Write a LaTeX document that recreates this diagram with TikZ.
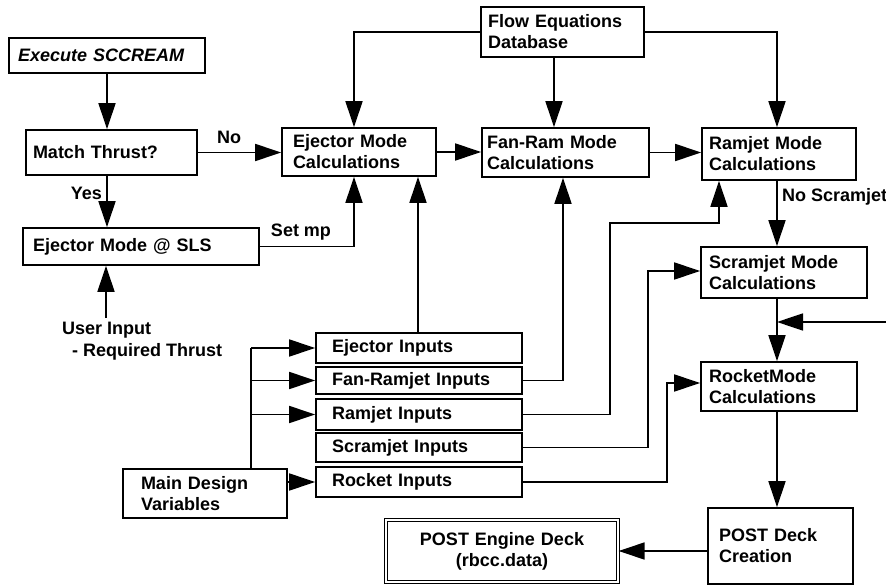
\documentclass[tikz,border=0pt]{standalone}
\usepackage{fontspec}
\setmainfont{Liberation Sans}
\usetikzlibrary{arrows.meta}
\newcommand\mkbox[8][]{%
 \pgfmathsetmacro\bxw{#5-#3}%
 \pgfmathsetmacro\bxh{#6-#4}%
 \pgfmathsetmacro\bxt{#5-#3-2*#7}%
 \pgfmathsetmacro\bxcx{(#3+#5)/2}%
 \pgfmathsetmacro\bxcy{(#4+#6)/2}%
 \node[box, minimum width=\bxw pt, minimum height=\bxh pt, text width=\bxt pt, inner xsep=#7 pt,#1] (#2) at (\bxcx,\bxcy) {#8};}
\begin{document}
\begin{tikzpicture}[x=1pt,y=-1pt,
 box/.style={draw, line width=1.7pt, rectangle, inner ysep=0pt, align=left, font=\fontsize{18}{21}\selectfont\bfseries},
 arr/.style={line width=1.7pt, -{Triangle[length=26pt,width=17pt]}},
 ln/.style={line width=1.7pt},
 lbl/.style={font=\fontsize{18}{21}\selectfont\bfseries, inner sep=0pt}]
\useasboundingbox (0,0) rectangle (886,588);
% boxes
\mkbox{exec}{9}{38}{205}{73}{9}{\itshape Execute SCCREAM}
\mkbox{match}{26}{130}{197}{175}{7}{Match Thrust?}
\mkbox{sls}{23}{228}{259}{265}{10}{Ejector Mode @ SLS}
\mkbox{ejc}{282}{128}{436}{176}{11}{Ejector Mode\\Calculations}
\mkbox{flow}{481}{7}{644}{57}{7}{Flow Equations\\Database}
\mkbox{fan}{482}{128}{649}{177}{5}{Fan-Ram Mode\\Calculations}
\mkbox{ram}{702}{128}{856}{180}{7}{Ramjet Mode\\Calculations}
\mkbox{scr}{701}{247}{867}{298}{8}{Scramjet Mode\\Calculations}
\mkbox{rock}{701}{362}{857}{411}{8}{RocketMode\\Calculations}
\mkbox{post}{708}{508}{853}{584}{11}{POST Deck\\Creation}
\mkbox[align=center, double, double distance=2pt, line width=1.2pt]{eng}{386}{520}{618}{582}{8}{POST Engine Deck\\(rbcc.data)}
\mkbox{ein}{316}{333}{522}{363}{16}{Ejector Inputs}
\mkbox{fin}{316}{367}{522}{394}{16}{Fan-Ramjet Inputs}
\mkbox{rin}{316}{399}{522}{430}{16}{Ramjet Inputs}
\mkbox{sin}{316}{433}{522}{462}{16}{Scramjet Inputs}
\mkbox{kin}{316}{467}{522}{497}{16}{Rocket Inputs}
\mkbox{main}{123}{469}{287}{518}{18}{Main Design\\Variables}
% labels
\node[lbl] (no) at (229,137) {No};
\node[lbl, anchor=east] (yes) at (102,193) {Yes};
\node[lbl] (setmp) at (301,232) {Set mp};
\node[lbl, anchor=west] (nos) at (782,197) {No Scramjet};
\node[lbl, anchor=west] (uin1) at (62,330) {User Input};
\node[lbl, anchor=west] (uin2) at (72,352) {- Required Thrust};
% helper coordinates
\coordinate (c1) at (354,0);
\coordinate (c2) at (554,0);
\coordinate (c3) at (777,0);
\coordinate (c4) at (418,0);
\coordinate (c5) at (563,0);
\coordinate (c7) at (719,0);
\coordinate (c8) at (251,0);
\coordinate (k1) at (610,223);
\coordinate (k2) at (648,271);
\coordinate (k3) at (667,383);
\coordinate (us) at (106,318);
\coordinate (rt) at (886,322);
% connectors
\draw[arr] (exec.south) -- (exec.south |- match.north);
\draw[arr] (match.east) -- (match.east -| ejc.west);
\draw[arr] (match.south -| exec.south) -- (exec.south |- sls.north);
\draw[arr] (us) -- (us |- sls.south);
\draw[arr] (sls.east) -| (ejc.south -| c1);
\draw[arr] (flow.west) -| (ejc.north -| c1);
\draw[arr] (flow.south -| c2) -- (fan.north -| c2);
\draw[arr] (flow.east) -| (ram.north -| c3);
\draw[arr] (ejc.east) -- (ejc.east -| fan.west);
\draw[arr] (fan.east) -- (fan.east -| ram.west);
\draw[arr] (ram.south -| c3) -- (scr.north -| c3);
\draw[arr] (scr.south -| c3) -- (rock.north -| c3);
\draw[arr] (rt) -- (rt -| c3);
\draw[arr] (rock.south -| c3) -- (post.north -| c3);
\draw[arr] (post.west |- eng.east) -- (eng.east);
\draw[arr] (ein.north -| c4) -- (ejc.south -| c4);
\draw[arr] (fin.east) -| (fan.south -| c5);
\draw[arr] (rin.east) -| (k1) -| (ram.south -| c7);
\draw[arr] (sin.east) -| (k2) -- (k2 -| scr.west);
\draw[arr] (kin.east) -| (k3) -- (k3 -| rock.west);
\draw[ln] (main.north -| c8) -- (c8 |- ein.west);
\draw[arr] (c8 |- ein.west) -- (ein.west);
\draw[arr] (c8 |- fin.west) -- (fin.west);
\draw[arr] (c8 |- rin.west) -- (rin.west);
\draw[arr] (main.east |- kin.west) -- (kin.west);
\end{tikzpicture}
\end{document}
